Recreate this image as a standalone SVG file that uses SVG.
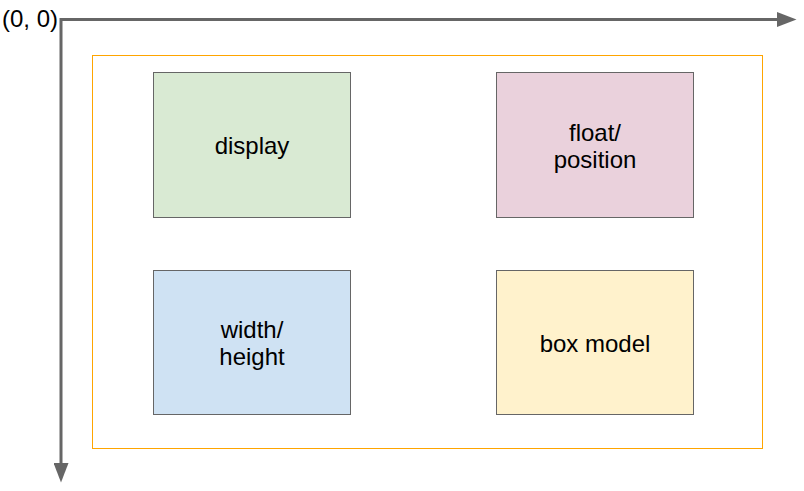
<svg xmlns="http://www.w3.org/2000/svg" width="804" height="491" viewBox="0 0 804 491">
<style>
text{font-family:"Liberation Sans",Arial,sans-serif;font-size:24px;fill:#000;text-anchor:middle}
.box{stroke:#666;stroke-width:1}
.axis{stroke:#666;stroke-width:3;fill:none}
</style>
<defs>
<marker id="ah" markerWidth="6.5" markerHeight="5" refX="0" refY="2.5" orient="auto" markerUnits="strokeWidth">
<path d="M0,0 L6.5,2.5 L0,5 Z" fill="#666"/>
</marker>
</defs>
<rect width="804" height="491" fill="#fff"/>
<g id="connectors">
<path class="axis" d="M61,19.5 H777" marker-end="url(#ah)"/>
<path class="axis" d="M61,18 V463" marker-end="url(#ah)"/>
</g>
<text x="30" y="27">(0, 0)</text>
<g id="frame"><rect x="92.5" y="55.5" width="670" height="393" fill="none" stroke="#ffa500" stroke-width="1"/></g>
<g id="display"><rect class="box" x="153.5" y="72.5" width="197" height="145" fill="#d9ead3"/><text x="252" y="154">display</text></g>
<g id="float"><rect class="box" x="496.5" y="72.5" width="197" height="145" fill="#ead1dc"/><text><tspan x="595" y="141">float/</tspan><tspan x="595" y="168">position</tspan></text></g>
<g id="width"><rect class="box" x="153.5" y="270.5" width="197" height="144" fill="#cfe2f3"/><text><tspan x="252" y="338">width/</tspan><tspan x="252" y="365">height</tspan></text></g>
<g id="boxmodel"><rect class="box" x="496.5" y="270.5" width="197" height="144" fill="#fff2cc"/><text x="595" y="352">box model</text></g>
</svg>
